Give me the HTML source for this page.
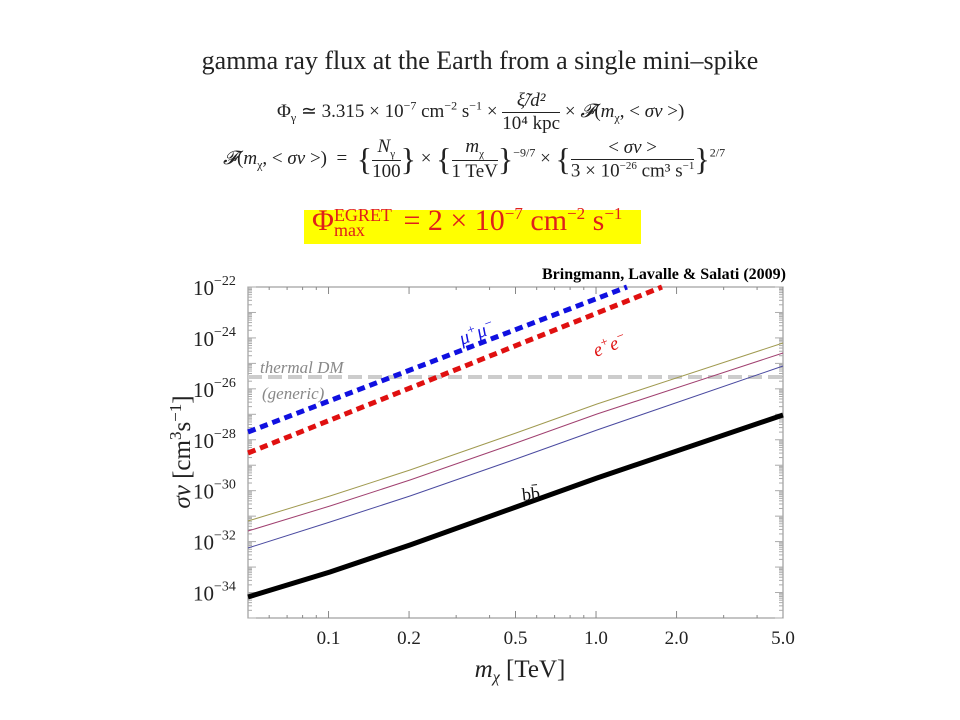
<!DOCTYPE html>
<html><head><meta charset="utf-8"><style>
body{margin:0;width:960px;height:720px;background:#fff;overflow:hidden;font-family:"Liberation Serif",serif;position:relative}
.t{position:absolute;white-space:nowrap;color:#222}
</style></head><body>
<div class="t" style="left:0;width:960px;text-align:center;top:46px;font-size:26px">gamma ray flux at the Earth from a single mini–spike</div>
<div class="t" style="left:277px;top:90px;font-size:19px">Φ<sub style="font-size:12px">γ</sub> ≃ 3.315 × 10<sup style="font-size:12px">−7</sup> cm<sup style="font-size:12px">−2</sup> s<sup style="font-size:12px">−1</sup> × <span style="display:inline-block;vertical-align:middle;text-align:center"><span style="display:block;border-bottom:1px solid #222;font-style:italic">ξ̃/d²</span><span style="display:block">10⁴ kpc</span></span> × <i>𝓕</i>(<i>m</i><sub style="font-size:12px">χ</sub>, &lt; <i>σv</i> &gt;)</div>
<div class="t" style="left:223px;top:136px;font-size:19px"><i>𝓕</i>(<i>m</i><sub style="font-size:12px">χ</sub>, &lt; <i>σv</i> &gt;) &nbsp;= &nbsp;<span style="font-size:32px;vertical-align:middle">{</span><span style="display:inline-block;vertical-align:middle;text-align:center"><span style="display:block;border-bottom:1px solid #222"><i>N</i><sub style="font-size:11px">γ</sub></span><span style="display:block">100</span></span><span style="font-size:32px;vertical-align:middle">}</span> × <span style="font-size:32px;vertical-align:middle">{</span><span style="display:inline-block;vertical-align:middle;text-align:center"><span style="display:block;border-bottom:1px solid #222"><i>m</i><sub style="font-size:11px">χ</sub></span><span style="display:block">1 TeV</span></span><span style="font-size:32px;vertical-align:middle">}</span><sup style="font-size:12px">−9/7</sup> × <span style="font-size:32px;vertical-align:middle">{</span><span style="display:inline-block;vertical-align:middle;text-align:center"><span style="display:block;border-bottom:1px solid #222">&lt; <i>σv</i> &gt;</span><span style="display:block">3 × 10<sup style="font-size:11px">−26</sup> cm³ s<sup style="font-size:11px">−1</sup></span></span><span style="font-size:32px;vertical-align:middle">}</span><sup style="font-size:12px">2/7</sup></div>
<div style="position:absolute;left:304px;top:210px;width:337px;height:34px;background:#ffff00"></div>
<div class="t" style="left:312px;top:204px;font-size:30px;color:#e0201a">Φ<span style="display:inline-block;vertical-align:middle;line-height:15px;font-size:18px;margin-right:4px">EGRET<br>max</span> = 2 × 10<sup style="font-size:17px">−7</sup> cm<sup style="font-size:17px">−2</sup> s<sup style="font-size:17px">−1</sup></div>
<svg id="s" width="960" height="720" style="position:absolute;left:0;top:0" xmlns="http://www.w3.org/2000/svg"></svg>
<script>
const X=m=>248+267.5*(Math.log10(m)+1.30103);
const Y=e=>287+25.46*(-22-e);
let h='';
h+='<text x="786" y="279" text-anchor="end" font-family="Liberation Serif" font-weight="bold" font-size="16">Bringmann, Lavalle &amp; Salati (2009)</text>';
h+='<rect x="248" y="287" width="535" height="331" fill="none" stroke="#888" stroke-width="1"/>';
for(let e=-35;e<=-22;e++){
 for(let k=1;k<10;k++){const y=Y(e+Math.log10(k));if(y<287||y>618)continue;const L=k==1?8:4;
 h+=`<line x1="248" x2="${248+L}" y1="${y}" y2="${y}" stroke="#aaa"/><line x1="783" x2="${783-L}" y1="${y}" y2="${y}" stroke="#aaa"/>`;}
}
for(let e=-34;e<=-22;e+=2){const y=Y(e);h+=`<text x="193" y="${y+8}" font-family="Liberation Serif" font-size="21" fill="#222">10<tspan dy="-10" font-size="14">−${-e}</tspan></text>`;}
[[0.06],[0.07],[0.08],[0.09],[0.1,'0.1'],[0.2,'0.2'],[0.3],[0.4],[0.5,'0.5'],[0.6],[0.7],[0.8],[0.9],[1,'1.0'],[2,'2.0'],[3],[4],[5,'5.0']].forEach(([m,l])=>{const x=X(m);const L=l?7:3;
h+=`<line x1="${x}" x2="${x}" y1="618" y2="${618-L}" stroke="#888"/><line x1="${x}" x2="${x}" y1="287" y2="${287+L}" stroke="#888"/>`;
if(l)h+=`<text x="${x}" y="644" text-anchor="middle" font-family="Liberation Serif" font-size="19" fill="#222">${l}</text>`;});
h+='<text x="520" y="677" text-anchor="middle" font-family="Liberation Serif" font-size="25" fill="#222"><tspan font-style="italic">m</tspan><tspan font-size="16" dy="5" font-style="italic">χ</tspan><tspan dy="-5"> [TeV]</tspan></text>';
h+='<text transform="translate(190,452) rotate(-90)" text-anchor="middle" font-family="Liberation Serif" font-size="25" fill="#222"><tspan font-style="italic">σv</tspan> [cm<tspan dy="-9" font-size="17">3</tspan><tspan dy="9">s</tspan><tspan dy="-9" font-size="17">−1</tspan><tspan dy="9">]</tspan></text>';
h+='<line x1="248" x2="783" y1="377" y2="377" stroke="#ccc" stroke-width="4" stroke-dasharray="14,6"/>';
h+='<text x="260" y="373" font-family="Liberation Serif" font-style="italic" font-size="17" fill="#888">thermal DM</text>';
h+='<text x="262" y="399" font-family="Liberation Serif" font-style="italic" font-size="17" fill="#888">(generic)</text>';
h+='<polyline points="248,521 330,496 410,470 516,433 597,404 783,343" fill="none" stroke="#a09a50" stroke-width="1"/>';
h+='<polyline points="248,531 330,506 410,480 516,443 597,414 783,353" fill="none" stroke="#a04070" stroke-width="1"/>';
h+='<polyline points="248,548 330,522 410,496 516,459 597,430 783,366" fill="none" stroke="#4a4aa0" stroke-width="1"/>';
h+='<polyline points="248,597 330,572 410,545 516,507 597,478 783,415" fill="none" stroke="#000" stroke-width="5"/>';
h+='<text x="522" y="500" font-family="Liberation Serif" font-size="18" fill="#111" transform="rotate(-6 530 495)">bb̄</text>';
h+='<line x1="248" y1="432" x2="627" y2="287" stroke="#1010e0" stroke-width="5" stroke-dasharray="8,5"/>';
h+='<line x1="248" y1="453" x2="662" y2="287" stroke="#e01010" stroke-width="5" stroke-dasharray="8,5"/>';
h+='<text x="462" y="345" font-family="Liberation Serif" font-style="italic" font-size="19" fill="#1010e0" transform="rotate(-21 462 345)">μ<tspan dy="-7" font-size="13">+</tspan><tspan dy="7">μ</tspan><tspan dy="-7" font-size="13">−</tspan></text>';
h+='<text x="596" y="357" font-family="Liberation Serif" font-style="italic" font-size="19" fill="#e01010" transform="rotate(-21 596 357)">e<tspan dy="-7" font-size="13">+</tspan><tspan dy="7">e</tspan><tspan dy="-7" font-size="13">−</tspan></text>';
document.getElementById('s').innerHTML=h;
</script>
</body></html>
